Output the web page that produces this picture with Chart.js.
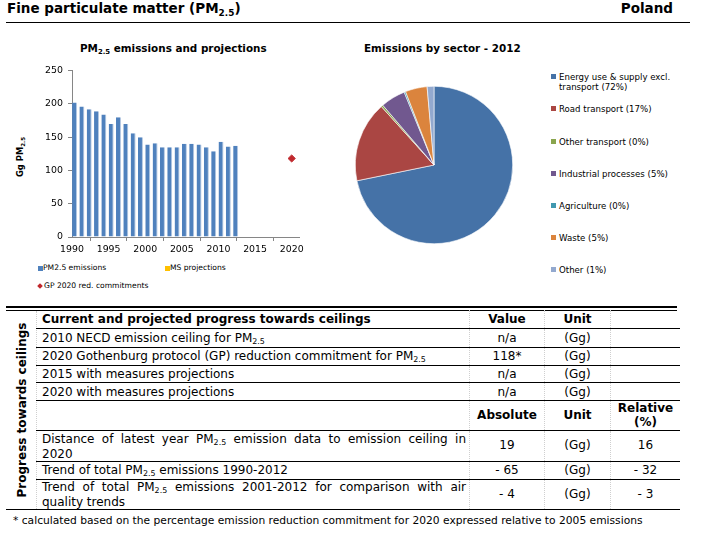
<!DOCTYPE html>
<html>
<head>
<meta charset="utf-8">
<script src="https://cdn.jsdelivr.net/npm/chart.js@4.4.0/dist/chart.umd.min.js"></script>
<style>
  body { margin: 0; background: #fff; font-family: "DejaVu Sans", sans-serif; color: #000; }
  #page { position: relative; width: 718px; height: 535px; overflow: hidden; }
  .abs { position: absolute; white-space: nowrap; }
  sub { font-size: 0.66em; vertical-align: -0.3em; line-height: 0; }
  .hline { position: absolute; background: #000; height: 1px; }
  .row { position: absolute; left: 36px; width: 644px; display: flex; border-bottom: 1px solid #000; box-sizing: border-box; font-size: 12px; }
  .row > div { display: flex; align-items: center; box-sizing: border-box; }
  .c1 { width: 433px; padding-left: 6px; padding-right: 3px; }
  .c2 { width: 75px; justify-content: center; border-left: 1px dotted #cfcfcf; }
  .c3 { width: 66px; justify-content: center; border-left: 1px dotted #cfcfcf; }
  .c4 { width: 70px; justify-content: center; border-left: 1px dotted #cfcfcf; text-align: center; }
  .b { font-weight: bold; }
  .just { display: block !important; text-align: justify; text-align-last: justify; width: 100%; }
  .leg { position: absolute; font-size: 8.6px; line-height: 10px; white-space: nowrap; }
  .sw { position: absolute; width: 5px; height: 5px; }
</style>
</head>
<body>
<div id="page">
  <!-- header -->
  <div class="abs b" style="left:7px; top:0px; font-size:13.5px; line-height:17px;">Fine particulate matter (PM<sub>2.5</sub>)</div>
  <div class="abs b" style="right:45px; top:0px; font-size:13.5px; line-height:17px;">Poland</div>
  <div class="hline" style="left:6px; width:684px; top:22px;"></div>

  <!-- subtitles -->
  <div class="abs b" style="left:80px; top:41px; font-size:10.4px; line-height:14px;">PM<sub>2.5</sub> emissions and projections</div>
  <div class="abs b" style="left:364px; top:41px; font-size:10.4px; line-height:14px;">Emissions by sector - 2012</div>

  <!-- bar chart -->
  <div class="abs b" style="left:20px; top:157px; font-size:8.4px; transform:translate(-50%,-50%) rotate(-90deg);">Gg PM<sub>2.5</sub></div>
  <canvas id="barChart" width="310" height="200" style="position:absolute; left:0; top:60px;"></canvas>

  <div class="sw" style="left:38px; top:266px; background:#4F81BD;"></div>
  <div class="leg" style="left:43px; top:263px; font-size:7.6px;">PM2.5 emissions</div>
  <div class="sw" style="left:165px; top:266px; background:#FFC000;"></div>
  <div class="leg" style="left:170px; top:263px; font-size:7.6px;">MS projections</div>
  <div class="sw" style="left:38px; top:284px; width:4px; height:4px; background:#C0282D; transform:rotate(45deg);"></div>
  <div class="leg" style="left:44px; top:281px; font-size:7.6px;">GP 2020 red. commitments</div>

  <!-- pie chart -->
  <canvas id="pieChart" width="160" height="160" style="position:absolute; left:354px; top:85px;"></canvas>
  <div id="pieLegend"></div>

  <!-- table -->
  <div class="hline" style="left:6px; width:671px; top:306px; height:2px;"></div>
  <div class="hline" style="left:6px; width:671px; top:310px;"></div>
  <div class="abs b" style="left:22px; top:410px; font-size:12px; transform:translate(-50%,-50%) rotate(-90deg);">Progress towards ceilings</div>
  <div style="position:absolute; left:36px; top:311px; height:198px; border-left:1px dotted #cfcfcf;"></div>

  <div class="row b" style="top:310px; height:18.5px;">
    <div class="c1"><span>Current and projected progress towards ceilings</span></div>
    <div class="c2">Value</div><div class="c3">Unit</div><div class="c4"></div>
  </div>
  <div class="row" style="top:328.5px; height:19px;">
    <div class="c1"><span>2010 NECD emission ceiling for PM<sub>2.5</sub></span></div>
    <div class="c2">n/a</div><div class="c3">(Gg)</div><div class="c4"></div>
  </div>
  <div class="row" style="top:347.5px; height:18px;">
    <div class="c1"><span>2020 Gothenburg protocol (GP) reduction commitment for PM<sub>2.5</sub></span></div>
    <div class="c2">118*</div><div class="c3">(Gg)</div><div class="c4"></div>
  </div>
  <div class="row" style="top:365.5px; height:17.5px;">
    <div class="c1"><span>2015 with measures projections</span></div>
    <div class="c2">n/a</div><div class="c3">(Gg)</div><div class="c4"></div>
  </div>
  <div class="row" style="top:383px; height:18px;">
    <div class="c1"><span>2020 with measures projections</span></div>
    <div class="c2">n/a</div><div class="c3">(Gg)</div><div class="c4"></div>
  </div>
  <div class="row b" style="top:401px; height:29.5px;">
    <div class="c1"></div>
    <div class="c2">Absolute</div><div class="c3">Unit</div><div class="c4" style="line-height:14px;">Relative<br>(%)</div>
  </div>
  <div class="row" style="top:430.5px; height:31.5px; line-height:15px;">
    <div class="c1" style="display:block; padding-top:1px;">
      <div class="just">Distance of latest year PM<sub>2.5</sub> emission data to emission ceiling in</div>
      <div>2020</div>
    </div>
    <div class="c2">19</div><div class="c3">(Gg)</div><div class="c4">16</div>
  </div>
  <div class="row" style="top:462px; height:17.5px;">
    <div class="c1"><span>Trend of total PM<sub>2.5</sub> emissions 1990-2012</span></div>
    <div class="c2">- 65</div><div class="c3">(Gg)</div><div class="c4">- 32</div>
  </div>
  <div class="row" style="top:479.5px; height:29.5px; line-height:15.5px; border-bottom:none;">
    <div class="c1" style="display:block; padding-top:0px;">
      <div class="just">Trend of total PM<sub>2.5</sub> emissions 2001-2012 for comparison with air</div>
      <div>quality trends</div>
    </div>
    <div class="c2">- 4</div><div class="c3">(Gg)</div><div class="c4">- 3</div>
  </div>
  <div class="hline" style="left:6px; width:674px; top:509px;"></div>
  <div class="abs" style="left:13px; top:514px; font-size:10.7px; line-height:14px;">* calculated based on the percentage emission reduction commitment for 2020 expressed relative to 2005 emissions</div>
</div>

<script>
// PM2.5 emissions (Gg), 1990-2012
const years = [1990, 1991, 1992, 1993, 1994, 1995, 1996, 1997, 1998, 1999, 2000, 2001,
               2002, 2003, 2004, 2005, 2006, 2007, 2008, 2009, 2010, 2011, 2012];
const emissions = [202, 196, 192, 189, 184, 170, 180, 170, 156, 150, 139, 141,
                   135, 135, 135, 140, 140, 139, 135, 129, 143, 136, 137];
const gpYear = [2020];
const gpCommitment = [118];
const xTicks = [1990, 1995, 2000, 2005, 2010, 2015, 2020];
const yTicks = [0, 50, 100, 150, 200, 250];

// sector shares 2012 (%)
const sectors = ['Energy use & supply excl. transport (72%)', 'Road transport (17%)', 'Other transport (0%)',
                 'Industrial processes (5%)', 'Agriculture  (0%)', 'Waste (5%)', 'Other (1%)'];
const sectorShares = [72, 16.6, 0.4, 5.1, 0.3, 4.5, 1.4];
const sectorColors = ['#4572A7', '#AA4643', '#89A54E', '#71588F', '#4198AF', '#DB843D', '#93A9CF'];

document.addEventListener('DOMContentLoaded', function () {
  const axisGrey = '#868686';
  const tickFont = { family: 'DejaVu Sans', size: 9.4 };

  new Chart(document.getElementById('barChart').getContext('2d'), {
    data: {
      datasets: [{
        type: 'bar',
        data: years.map((y, i) => ({ x: y + 0.35, y: emissions[i] })),
        backgroundColor: '#4F81BD',
        borderColor: '#B4C8E2',
        borderWidth: { top: 0, right: 1, bottom: 0, left: 0 },
        borderSkipped: false,
        barPercentage: 0.68,
        categoryPercentage: 1
      }, {
        type: 'line',
        data: gpYear.map((y, i) => ({ x: y, y: gpCommitment[i] })),
        showLine: false,
        pointStyle: 'rectRot',
        pointRadius: 3.6,
        backgroundColor: '#C0282D',
        borderColor: '#C0282D'
      }]
    },
    options: {
      responsive: false,
      animation: false,
      layout: { padding: { top: 7, right: 11, left: 0, bottom: 0 } },
      plugins: { legend: { display: false }, tooltip: { enabled: false } },
      scales: {
        x: {
          type: 'linear', min: 1990, max: 2021, offset: false,
          afterBuildTicks: s => { s.ticks = xTicks.map(v => ({ value: v })); },
          afterFit: s => { s.height = 23; },
          ticks: { autoSkip: false, maxRotation: 0, padding: 3, font: tickFont, color: '#000', callback: v => String(v) },
          grid: { drawOnChartArea: false, tickLength: 4, color: axisGrey },
          border: { color: axisGrey }
        },
        y: {
          min: 0, max: 250,
          afterBuildTicks: s => { s.ticks = yTicks.map(v => ({ value: v })); },
          afterFit: s => { s.width = 72; },
          ticks: { padding: 5, font: tickFont, color: '#000' },
          grid: { drawOnChartArea: false, tickLength: 4, color: axisGrey },
          border: { color: axisGrey }
        }
      }
    }
  });

  new Chart(document.getElementById('pieChart').getContext('2d'), {
    type: 'pie',
    data: {
      labels: sectors,
      datasets: [{ data: sectorShares, backgroundColor: sectorColors, borderColor: '#ffffff', borderWidth: 0.6 }]
    },
    options: {
      responsive: false,
      animation: false,
      layout: { padding: 1 },
      plugins: { legend: { display: false }, tooltip: { enabled: false } }
    }
  });

  // legend for the pie, one row per sector
  const legendTops = [72, 104, 137, 169, 201, 233, 265];
  const holder = document.getElementById('pieLegend');
  sectors.forEach((name, i) => {
    const sw = document.createElement('div');
    sw.className = 'sw';
    sw.style.left = '551px';
    sw.style.top = (legendTops[i] + 2) + 'px';
    sw.style.background = sectorColors[i];
    holder.appendChild(sw);
    const tx = document.createElement('div');
    tx.className = 'leg';
    tx.style.left = '559px';
    tx.style.top = legendTops[i] + 'px';
    tx.innerHTML = i === 0 ? 'Energy use &amp; supply excl.<br>transport (72%)' : name;
    holder.appendChild(tx);
  });
});
</script>
</body>
</html>
